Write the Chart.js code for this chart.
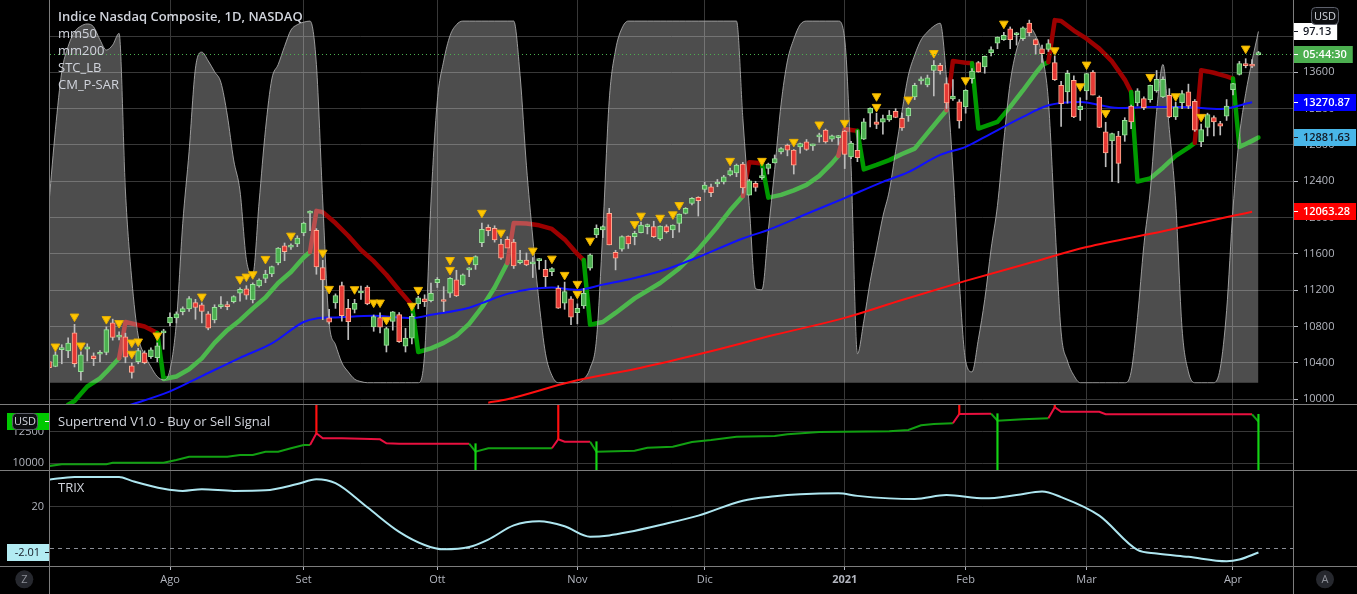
<!DOCTYPE html>
<html>
<head>
<meta charset="utf-8">
<title>Indice Nasdaq Composite, 1D, NASDAQ</title>
<script src="https://cdn.jsdelivr.net/npm/chart.js@4.4.1/dist/chart.umd.min.js"></script>
<style>
html,body{margin:0;padding:0;background:#000;}
#wrap{position:relative;width:1357px;height:594px;background:#000;overflow:hidden;font-family:'Open Sans','Noto Sans',sans-serif;}
#wrap canvas{position:absolute;left:0;}
.hl{position:absolute;left:0;width:1357px;height:1px;background:#7d7d7d;}
.vl{position:absolute;top:0;width:1px;height:594px;background:#7d7d7d;}
.t{position:absolute;left:58px;color:#d1d4dc;font-size:13px;line-height:17px;white-space:nowrap;}
</style>
</head>
<body>
<div id="wrap">
<canvas id="cMain" width="1357" height="404" style="top:0;width:1357px;height:404px"></canvas>
<canvas id="cST" width="1357" height="65" style="top:405px;width:1357px;height:65px"></canvas>
<canvas id="cTrix" width="1357" height="123" style="top:471px;width:1357px;height:123px"></canvas>
<div class="hl" style="top:404px"></div>
<div class="hl" style="top:470px"></div>
<div class="hl" style="top:566px"></div>
<div class="vl" style="left:49px"></div>
<div class="vl" style="left:1293px"></div>
<div class="t" style="top:8px;font-weight:600">Indice Nasdaq Composite, 1D, NASDAQ</div>
<div class="t" style="top:25px">mm50</div>
<div class="t" style="top:42px">mm200</div>
<div class="t" style="top:59px">STC_LB</div>
<div class="t" style="top:76px">CM_P-SAR</div>
<div class="t" style="top:413px">Supertrend V1.0 - Buy or Sell Signal</div>
<div class="t" style="top:479px">TRIX</div>
</div>
<script>
// ---------------- DATA ----------------
// x axis: bar index (0 = 6 Jul 2020 ... 191 = 8 Apr 2021)
const monthIdx = [20, 41, 62, 84, 104, 126, 145, 164, 187];
const monthLbl = ['Ago', 'Set', 'Ott', 'Nov', 'Dic', '2021', 'Feb', 'Mar', 'Apr'];
const priceTicks = [10000, 10400, 10800, 11200, 11600, 12000, 12400, 12800, 13200, 13600, 14000];
const stTicks = [10000, 12500];
const trixTicks = [20];

const opens = [
10300,10415,10360,10545,10533,10731,10302,10552,10478,10495,
10514,10841,10683,10687,10368,10412,10511,10467,10456,10730,
10841,10895,10965,10995,11064,11039,10940,10874,11020,11039,
11075,11168,11215,11094,11248,11330,11380,11500,11690,11675,
11710,11830,12050,11861,11450,10896,11060,11250,11000,10990,
11170,11236,10797,10900,10592,10857,10932,10584,10672,11049,
11105,11086,11284,11085,11167,11314,11259,11424,11479,11724,
11893,11882,11709,11761,11731,11504,11533,11490,11526,11431,
11405,11222,11058,11105,10954,11028,11442,11808,11863,12047,
11618,11651,11797,11790,11834,11900,11900,11765,11900,11863,
11937,12047,12157,12223,12311,12340,12370,12394,12470,12493,
12589,12248,12377,12440,12541,12603,12724,12798,12743,12779,
12834,12790,12889,12963,12864,12880,12952,12667,12742,12863,
13149,13054,13050,13075,13171,13094,13120,13328,13505,13460,
13620,13676,13476,13307,13274,13219,13531,13707,13659,13817,
13922,13960,14080,14014,13970,14141,13960,13860,13853,13707,
13457,13384,13512,13190,13395,13603,13328,12944,12845,12897,
12908,13227,13263,13311,13300,13395,13329,13347,13109,13266,
13384,13281,12834,12992,13102,13036,13117,13410,13578,13696,
13690,13795];
const highs = [
10440,10490,10525,10600,10676,10824,10522,10610,10510,10535,
10797,10882,10742,10727,10400,10560,10533,10565,10620,10770,
10951,10962,11017,11130,11100,11060,10965,11040,11130,11075,
11140,11226,11250,11281,11325,11420,11466,11670,11720,11710,
11800,11950,12074,11879,11530,10990,11160,11290,11100,11100,
11245,11250,10927,10950,10793,10966,10953,10780,10940,11134,
11150,11280,11340,11240,11340,11420,11380,11450,11580,11940,
11920,11910,11760,11790,11760,11640,11610,11560,11550,11530,
11450,11250,11290,11130,11050,11220,11600,11920,11910,12102,
11640,11800,11800,11850,11950,11930,11960,11910,11920,11920,
12040,12110,12220,12230,12390,12370,12420,12465,12545,12590,
12610,12420,12400,12540,12600,12690,12770,12810,12750,12820,
12860,12810,12930,12975,12910,12905,12960,12840,12960,13090,
13210,13150,13130,13180,13200,13150,13210,13480,13550,13570,
13730,13700,13540,13520,13300,13410,13640,13720,13780,13880,
13990,14040,14100,14040,14100,14175,13970,13900,13960,13780,
13500,13620,13560,13320,13590,13620,13340,13050,12930,12950,
13100,13240,13420,13330,13460,13620,13550,13420,13270,13400,
13470,13300,13030,13150,13120,13060,13300,13480,13720,13750,
13740,13830];
const lows = [
10270,10340,10357,10390,10456,10355,10210,10420,10370,10410,
10489,10650,10654,10401,10232,10390,10390,10450,10412,10550,
10808,10840,10929,10968,10880,10840,10764,10840,11000,10985,
11060,11080,11100,11060,11235,11283,11350,11480,11525,11650,
11680,11800,11856,11376,10876,10830,11000,10860,10656,10950,
11100,11040,10748,10730,10520,10760,10625,10520,10608,10996,
11020,11070,11230,10965,11120,11130,11250,11350,11430,11680,
11800,11730,11540,11670,11440,11490,11470,11340,11430,11240,
11360,11000,10990,10820,10830,11000,11420,11780,11780,11700,
11424,11630,11660,11700,11830,11820,11780,11750,11830,11780,
11840,12040,12140,12017,12280,12230,12340,12370,12460,12450,
12270,12248,12290,12420,12480,12600,12700,12680,12480,12710,
12740,12740,12830,12820,12840,12800,12540,12650,12616,12860,
13000,12980,12920,13060,13100,12960,13060,13300,13470,13440,
13340,13580,13200,13290,12985,13150,13480,13600,13590,13780,
13860,13950,13860,13900,13950,14000,13800,13710,13830,13510,
13003,13260,13100,13070,13300,13350,12990,12560,12397,12383,
12840,12980,13230,13190,13270,13380,13320,13100,13080,13200,
13200,12950,12780,12900,12900,12910,13070,13350,13570,13650,
13650,13790];
const closes = [
10433,10346,10490,10568,10617,10391,10488,10578,10445,10503,
10767,10680,10706,10462,10295,10536,10402,10543,10587,10745,
10903,10941,10998,11108,11011,10968,10782,11012,11042,11019,
11129,11210,11146,11265,11312,11379,11460,11665,11625,11695,
11775,11939,12056,11458,11313,10847,11142,10919,10854,11056,
11190,11050,10910,10793,10779,10963,10633,10672,10914,11117,
11075,11167,11321,11076,11332,11138,11369,11442,11570,11871,
11856,11753,11552,11662,11467,11533,11478,11506,11541,11350,
11438,11003,11185,10904,11002,11167,11590,11882,11900,11698,
11552,11790,11709,11827,11918,11902,11790,11907,11845,11918,
12039,12102,12212,12186,12358,12274,12385,12449,12519,12578,
12328,12405,12333,12445,12589,12651,12761,12743,12578,12816,
12750,12805,12907,12834,12900,12888,12696,12820,12660,13054,
13204,13025,13090,13128,13102,12988,13204,13457,13524,13540,
13676,13615,13263,13337,13065,13402,13614,13604,13776,13850,
13988,14007,13960,14036,14090,14036,13905,13806,13916,13520,
13256,13589,13109,13227,13586,13348,12992,12713,12926,12597,
13072,13054,13395,13212,13457,13523,13523,13109,13219,13366,
13226,12963,12970,13135,13054,13006,13227,13476,13696,13674,
13668,13800];

// mm50 (blue) and mm200 (red) moving averages
const mm50Bars = [13,20,25,31,36,41,43,46,52,58,61,67,69,73,80,84,88,93,98,103,110,114,121,126,132,136,141,145,149,154,158,163,169,174,179,185,190];
const mm50Vals = [9920,10086,10255,10456,10615,10850,10890,10900,10918,10893,10929,11008,11058,11160,11229,11204,11262,11335,11431,11565,11770,11865,12070,12215,12394,12500,12690,12779,12926,13109,13237,13274,13208,13219,13219,13197,13270.87];
const mm200Bars = [70,73,83,94,104,115,126,135,145,155,164,176,187,190];
const mm200Vals = [9962,10000,10192,10346,10511,10709,10896,11093,11303,11500,11676,11850,12020,12063.28];

// Parabolic SAR (CM_P-SAR)
const sarBars = [4,5,7,9,10,12, 13,16,18, 19,21,23,25,27,29,31,33,35,37,39,41,42, 43,44,46,48,50,52,54,56,58, 59,61,63,65,67,69,71,73, 74,76,78,80,82,84,85, 86,88,90,93,97,100,103,106,108,110, 111,112,113, 114,116,118,120,122,124,125, 126,127,128, 129,131,133,135,137,139,141,142, 143,144,145,146, 147,150,152,154,156,157,158, 159,160,162,164,166,168,170,171, 172,174,176,178,180,181, 182,183,184,185,186,187, 188,189,190,191];
const sarVals = [9940,9980,10140,10230,10300,10450, 10850,10800,10730, 10222,10250,10330,10450,10620,10760,10870,11000,11120,11280,11400,11560,11621, 12074,12060,11940,11800,11643,11520,11370,11200,11039, 10520,10560,10620,10700,10830,11010,11230,11500, 11940,11935,11915,11875,11760,11600,11533, 10820,10850,10950,11110,11280,11440,11650,11900,12080,12237, 12610,12605,12595, 12220,12250,12300,12360,12460,12600,12680, 12975,12965,12955, 12531,12580,12633,12700,12760,12930,13100,13183, 13724,13715,13705,13700, 12981,13054,13219,13400,13590,13677,13713, 14175,14165,14060,13970,13861,13720,13520,13384, 12397,12432,12550,12680,12770,12823, 13622,13610,13595,13575,13555,13531, 12779,12810,12845,12881.63];

// STC_LB (0..100), one value per bar
const stc = [
30,50,70,86,93,97,98.6,99.2,98.4,94.8,
92,93.4,96.6,53,28.5,13,7.7,4.4,1.7,0.8,
3.6,16.6,44,64,87,91.4,89,86,83,74,
61.6,53,34,30,50,70,84,88,93,97.5,
99,99.7,100,88,50,16.6,10.5,5.5,3,1,
0.3,0,0,0,0,0,0,0,0,0,
8,50,78,89,96,99,100,100,100,100,
100,100,100,100,100,85,60,40,22,8,
2,0,0,0,0,1,4,12,42,78,
92,98,100,100,100,100,100,100,100,100,
100,100,100,100,100,100,100,100,100,100,
73,49,26,25.7,42,59,77,89,95,99,
100,100,100,100,100,100,95,60,8,17,
28,37,46,53,64,75,85,90.6,94.8,97,
98.6,99.4,84,59,28,6,3,12,23,37,
49,67,83,92,96.7,98.3,96,90.6,78,45,
14,6,2,0,0,0,0,0,0,0,
0,3,18,38,53,75,88,70,50,15,
3,0,0,0,0,4,20,48,68,80,
89,97.13];

// yellow signal triangles (bar, price)
const triBars = [2,5,6,10,12,14,14,15,18,25,31,32,33,35,39,44,45,49,52,53,54,58,59,64,64,67,69,72,77,80,82,84,84,86,93,94,97,99,100,108,113,118,122,126,131,131,136,140,145,151,159,163,164,167,174,178,182,189];
const triVals = [10580,10910,10591,10882,10838,10624,10500,10635,10701,11130,11321,11350,11376,11545,11801,11614,11215,11211,11064,11064,10874,11028,11204,11533,11424,11533,12053,11834,11636,11548,11369,11270,11160,11746,11929,12021,11998,12036,12138,12625,12625,12834,13025,13043,13336,13219,13300,13812,13512,14136,13842,13446,13685,13153,13549,13336,13109,13861];

// Supertrend V1.0
const stBars = [1,3,10,11,19,21,23,29,31,33,35,37,39,41,42, 43,44,47,53,54,56,67, 68,70,80, 81,82,86, 87,93,95,99,102,105,109,115,117,122,133,136,138,140,143, 144,149, 150,154,158, 159,160,166,167,190, 191];
const stVals = [9786,9921,9921,10047,10047,10261,10522,10522,10657,10657,10918,10918,11187,11448,11448, 12373,11978,11978,11899,11582,11551,11551, 10918,11187,11187, 11899,11709,11709, 10918,10997,11234,11313,11685,11843,12104,12160,12294,12476,12532,12634,13006,13109,13165, 13900,13924, 13370,13481,13560, 14430,14082,14082,13877,13877, 13291];

// TRIX
const trixBars = [1,5,12,14,19,22,25,30,35,40,43,46,51,56,60,63,67,70,74,78,82,86,89,92,97,103,110,115,119,125,128,133,137,142,148,153,157,160,166,172,175,180,186,188,191];
const trixVals = [33.0,34.3,34.3,32.4,28.6,27.6,28.4,27.6,27.9,30.9,33.2,31.3,19.7,7.9,1.6,-0.5,0.6,4.2,11.0,13.0,10.6,5.6,6.2,7.8,11.2,15.7,22.9,25.0,26.0,26.5,25.2,24.0,23.7,25.6,24.0,25.6,27.3,24.6,15.7,-0.8,-2.5,-4.1,-6.2,-5.4,-2.01];

const countdown = '05:44:30';

// ---------------- STYLE ----------------
const FONT = "'Open Sans','Noto Sans',sans-serif";
const GRID = '#383838';
const AXIS_TXT = '#b2b5be';
const X_MIN = 1.147, X_MAX = 196.43;
const P_MIN = 9947.1, P_MAX = 14396.5;
const STC_MIN = -5.89, STC_MAX = 105.83;
const ST_MIN = 9470, ST_MAX = 14612;
const TR_MIN = -8.51, TR_MAX = 37.16;
const G_FILL = '#4caf50', G_LINE = '#9be39b', R_FILL = '#e53935', R_LINE = '#ffab91', WICK = '#bdbdbd';
const SAR_G = '#009a00', SAR_R = '#9c0000';

Chart.defaults.font.family = FONT;
Chart.defaults.font.size = 11;
Chart.defaults.color = AXIS_TXT;
Chart.defaults.animation = false;
Chart.defaults.events = [];
Chart.defaults.plugins.legend.display = false;
Chart.defaults.plugins.tooltip.enabled = false;

const pts = (xs, ys) => xs.map((x, i) => ({ x: x, y: ys[i] }));
const last = a => a[a.length - 1];

function xAxis(showLabels) {
  return {
    type: 'linear', min: X_MIN, max: X_MAX, offset: false, bounds: 'data',
    grid: { color: GRID, drawTicks: showLabels, tickLength: 4, tickColor: AXIS_TXT, offset: false },
    border: { display: false },
    ticks: {
      display: showLabels, autoSkip: false, maxRotation: 0, padding: 3, color: AXIS_TXT,
      font: c => ({ family: FONT, size: 11, weight: (c.tick && c.tick.value === 126) ? 'bold' : 'normal' }),
      callback: v => { const k = monthIdx.indexOf(v); return k >= 0 ? monthLbl[k] : ''; }
    },
    afterBuildTicks: s => { s.ticks = monthIdx.map(v => ({ value: v })); },
    afterFit: s => { s.height = showLabels ? 28 : 0; s.paddingLeft = 0; s.paddingRight = 0; }
  };
}
function yAxis(pos, min, max, ticks, width, fmt) {
  return {
    type: 'linear', position: pos, min: min, max: max, bounds: 'data',
    grid: { color: GRID, drawTicks: pos === 'right', tickLength: 5, tickColor: AXIS_TXT },
    border: { display: false },
    ticks: { color: AXIS_TXT, padding: pos === 'right' ? 5 : 6, font: { family: FONT, size: 11 }, callback: fmt || (v => String(v)) },
    afterBuildTicks: s => { s.ticks = ticks.map(v => ({ value: v })); },
    afterFit: s => { s.width = width; s.paddingTop = 0; s.paddingBottom = 0; }
  };
}
function axisBox(ctx, x, yc, text, bg, fg) {
  ctx.font = '600 11px ' + FONT;
  const w = ctx.measureText(text).width;
  const h = 17, top = Math.round(yc - h / 2);
  ctx.fillStyle = bg; ctx.fillRect(x, top, w + 16, h);
  ctx.fillStyle = fg; ctx.textAlign = 'left'; ctx.textBaseline = 'middle';
  ctx.fillText(text, x + 10, top + h / 2 + 0.5);
  ctx.fillRect(x, top + 8, 5, 1);
}
function roundRect(ctx, x, y, w, h, r) {
  ctx.beginPath();
  ctx.moveTo(x + r, y); ctx.lineTo(x + w - r, y); ctx.quadraticCurveTo(x + w, y, x + w, y + r);
  ctx.lineTo(x + w, y + h - r); ctx.quadraticCurveTo(x + w, y + h, x + w - r, y + h);
  ctx.lineTo(x + r, y + h); ctx.quadraticCurveTo(x, y + h, x, y + h - r);
  ctx.lineTo(x, y + r); ctx.quadraticCurveTo(x, y, x + r, y); ctx.closePath();
}
function usdBadge(ctx, x, y, w, h) {
  roundRect(ctx, x + 0.5, y + 0.5, w, h, 4);
  ctx.fillStyle = '#0c0d10'; ctx.fill();
  ctx.strokeStyle = '#5d606b'; ctx.lineWidth = 1; ctx.stroke();
  ctx.fillStyle = '#d1d4dc'; ctx.font = '11px ' + FONT; ctx.textAlign = 'center'; ctx.textBaseline = 'middle';
  ctx.fillText('USD', x + w / 2 + 0.5, y + h / 2 + 1);
}
const baseOpts = (pad) => ({
  responsive: false, maintainAspectRatio: false, devicePixelRatio: 1,
  layout: { autoPadding: false, padding: pad }
});

// ---------------- MAIN PANE ----------------
const up = opens.map((o, i) => closes[i] >= o);
const wickData = highs.map((h, i) => ({ x: i, y: [lows[i], h] }));
const bodyData = opens.map((o, i) => ({ x: i, y: [Math.min(o, closes[i]), Math.max(o, closes[i])] }));
const sarUp = sarBars.map((b, i) => sarVals[i] < closes[b]);

const mainOverlay = {
  id: 'mainOverlay',
  afterDatasetsDraw(chart) {
    const { ctx, chartArea: a, scales } = chart;
    const py = Math.round(scales.y.getPixelForValue(last(closes))) + 0.5;
    ctx.save();
    ctx.strokeStyle = '#4caf50'; ctx.lineWidth = 1; ctx.setLineDash([1, 3]);
    ctx.beginPath(); ctx.moveTo(a.left, py); ctx.lineTo(a.right, py); ctx.stroke();
    ctx.restore();
  },
  afterDraw(chart) {
    const { ctx, chartArea: a, scales } = chart;
    const x = a.right;
    ctx.save();
    axisBox(ctx, x, scales.yStc.getPixelForValue(last(stc)), last(stc).toFixed(2), '#ffffff', '#131722');
    axisBox(ctx, x, scales.y.getPixelForValue(last(closes)), countdown, '#4caf50', '#ffffff');
    axisBox(ctx, x, scales.y.getPixelForValue(last(mm50Vals)), last(mm50Vals).toFixed(2), '#0000ff', '#ffffff');
    axisBox(ctx, x, scales.y.getPixelForValue(last(sarVals)), last(sarVals).toFixed(2), '#49b6e8', '#131722');
    axisBox(ctx, x, scales.y.getPixelForValue(last(mm200Vals)), last(mm200Vals).toFixed(2), '#ff0000', '#ffffff');
    usdBadge(ctx, 1311, 7, 27, 17);
    ctx.restore();
  }
};

new Chart(document.getElementById('cMain'), {
  type: 'bar',
  data: {
    datasets: [
      { type: 'line', label: 'CM_P-SAR', data: pts(sarBars, sarVals), yAxisID: 'y', borderColor: SAR_G, borderWidth: 4.5,
        pointRadius: 0, borderCapStyle: 'round', borderJoinStyle: 'round', clip: 0, order: 6,
        segment: { borderColor: c => sarUp[c.p1DataIndex] ? SAR_G : SAR_R } },
      { type: 'line', label: 'STC_LB', data: stc.map((v, i) => ({ x: i, y: v })), yAxisID: 'yStc', fill: 'origin',
        backgroundColor: 'rgba(255,255,255,0.30)', borderColor: 'rgba(175,175,175,0.85)', borderWidth: 1,
        pointRadius: 0, cubicInterpolationMode: 'monotone', clip: 0, order: 5 },
      { type: 'line', label: 'mm200', data: pts(mm200Bars, mm200Vals), yAxisID: 'y', borderColor: '#ff1010', borderWidth: 2,
        pointRadius: 0, cubicInterpolationMode: 'monotone', clip: 0, order: 4 },
      { type: 'line', label: 'mm50', data: pts(mm50Bars, mm50Vals), yAxisID: 'y', borderColor: '#1010ff', borderWidth: 2,
        pointRadius: 0, cubicInterpolationMode: 'monotone', clip: 0, order: 4 },
      { type: 'bar', label: 'wick', data: wickData, yAxisID: 'y', backgroundColor: WICK, barThickness: 1,
        grouped: false, clip: 0, order: 3 },
      { type: 'bar', label: 'body', data: bodyData, yAxisID: 'y', backgroundColor: up.map(u => u ? G_FILL : R_FILL),
        borderColor: up.map(u => u ? G_LINE : R_LINE), borderWidth: 1, borderSkipped: false, barThickness: 5,
        minBarLength: 2, grouped: false, clip: 0, order: 2 },
      { type: 'line', label: 'signal', data: pts(triBars, triVals), yAxisID: 'y', showLine: false, pointStyle: 'triangle',
        rotation: 180, pointRadius: 5, pointBackgroundColor: '#ffc600', pointBorderColor: '#e8b000', pointBorderWidth: 1,
        clip: 0, order: 1 }
    ]
  },
  options: Object.assign(baseOpts({ left: 50, right: 0, top: 0, bottom: 0 }), {
    scales: {
      x: xAxis(false),
      y: yAxis('right', P_MIN, P_MAX, priceTicks, 64),
      yStc: { type: 'linear', position: 'left', display: false, min: STC_MIN, max: STC_MAX, bounds: 'data' }
    }
  }),
  plugins: [mainOverlay]
});

// ---------------- SUPERTREND PANE ----------------
const stUp = stBars.map((b, i) => stVals[i] < closes[b]);
const sellSpikes = [], buySpikes = [];
for (let k = 1; k < stBars.length; k++) {
  if (stUp[k] !== stUp[k - 1]) {
    if (stUp[k]) buySpikes.push({ x: stBars[k], y: [ST_MIN, stVals[k - 1]] });
    else sellSpikes.push({ x: stBars[k], y: [stVals[k], ST_MAX] });
  }
}
const stOverlay = {
  id: 'stOverlay',
  afterDraw(chart) {
    const { ctx, scales } = chart;
    const yc = scales.yST.getPixelForValue(last(stVals));
    const top = Math.round(yc - 8.5);
    ctx.save();
    ctx.fillStyle = '#00c800'; ctx.fillRect(7, top, 43, 17);
    ctx.fillStyle = '#ffffff'; ctx.fillRect(45, top + 8, 5, 1);
    usdBadge(ctx, 12, top, 25, 16);
    ctx.restore();
  }
};
new Chart(document.getElementById('cST'), {
  type: 'bar',
  data: {
    datasets: [
      { type: 'line', label: 'Supertrend', data: pts(stBars, stVals), yAxisID: 'yST', borderColor: '#12a012', borderWidth: 2,
        pointRadius: 0, clip: 0, order: 2, segment: { borderColor: c => stUp[c.p1DataIndex] ? '#12a012' : '#e8103f' } },
      { type: 'bar', label: 'sell', data: sellSpikes, yAxisID: 'yST', backgroundColor: '#ff1010', barThickness: 1.5, grouped: false, clip: 0, order: 1 },
      { type: 'bar', label: 'buy', data: buySpikes, yAxisID: 'yST', backgroundColor: '#14d414', barThickness: 1.5, grouped: false, clip: 0, order: 1 }
    ]
  },
  options: Object.assign(baseOpts({ left: 0, right: 64, top: 0, bottom: 0 }), {
    scales: { x: xAxis(false), yST: yAxis('left', ST_MIN, ST_MAX, stTicks, 50) }
  }),
  plugins: [stOverlay]
});

// ---------------- TRIX PANE ----------------
const trixOverlay = {
  id: 'trixOverlay',
  beforeDatasetsDraw(chart) {
    const { ctx, chartArea: a, scales } = chart;
    const y0 = Math.round(scales.yTR.getPixelForValue(0)) + 0.5;
    ctx.save();
    ctx.strokeStyle = '#8a8d95'; ctx.lineWidth = 1; ctx.setLineDash([4, 4]);
    ctx.beginPath(); ctx.moveTo(a.left, y0); ctx.lineTo(a.right, y0); ctx.stroke();
    ctx.restore();
  },
  afterDraw(chart) {
    const { ctx, scales } = chart;
    const yc = scales.yTR.getPixelForValue(last(trixVals));
    const top = Math.round(yc - 8.5);
    ctx.save();
    ctx.fillStyle = '#b2ebf2'; ctx.fillRect(7, top, 43, 17);
    ctx.fillStyle = '#131722'; ctx.font = '11px ' + FONT; ctx.textAlign = 'right'; ctx.textBaseline = 'middle';
    ctx.fillText(last(trixVals).toFixed(2), 40, top + 9);
    ctx.fillRect(45, top + 8, 5, 1);
    const cy = 108.3;
    [[24.3, 'Z'], [1325, 'A']].forEach(([cx, ch]) => {
      ctx.beginPath(); ctx.arc(cx, cy, 9, 0, Math.PI * 2); ctx.fillStyle = '#26282e'; ctx.fill();
      ctx.fillStyle = '#8b8e96'; ctx.font = '11px ' + FONT; ctx.textAlign = 'center'; ctx.textBaseline = 'middle';
      ctx.fillText(ch, cx, cy + 0.5);
    });
    ctx.restore();
  }
};
new Chart(document.getElementById('cTrix'), {
  type: 'line',
  data: {
    datasets: [
      { label: 'TRIX', data: pts(trixBars, trixVals), yAxisID: 'yTR', borderColor: '#aee6f0', borderWidth: 2,
        pointRadius: 0, cubicInterpolationMode: 'monotone', clip: 0 }
    ]
  },
  options: Object.assign(baseOpts({ left: 0, right: 64, top: 0, bottom: 0 }), {
    scales: { x: xAxis(true), yTR: yAxis('left', TR_MIN, TR_MAX, trixTicks, 50) }
  }),
  plugins: [trixOverlay]
});
</script>
</body>
</html>
